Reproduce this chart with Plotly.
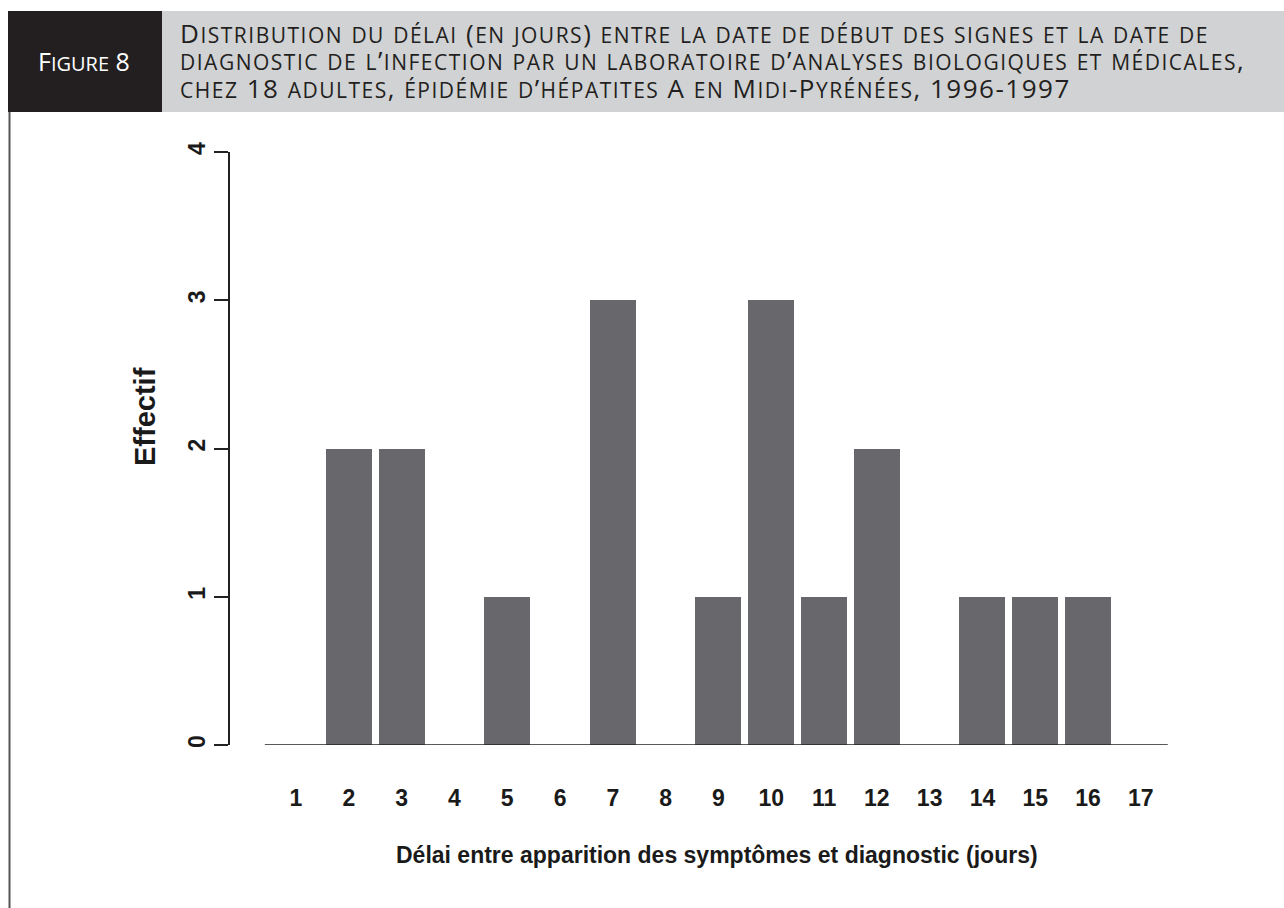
import plotly.graph_objects as go

# Data
days = list(range(1, 18))
counts = [0, 2, 2, 0, 1, 0, 3, 0, 1, 3, 1, 2, 0, 1, 1, 1, 0]
y_ticks = [0, 1, 2, 3, 4]

title_lines = [
    "Distribution du délai (en jours) entre la date de début des signes et la date de",
    "diagnostic de l’infection par un laboratoire d’analyses biologiques et médicales,",
    "chez 18 adultes, épidémie d’hépatites A en Midi-Pyrénées, 1996-1997",
]
fig_label = "Figure 8"
x_title = "Délai entre apparition des symptômes et diagnostic (jours)"
y_title = "Effectif"

W, H = 1284, 908
L, R, T, B = 230, 84, 152, 163
PW, PH = W - L - R, H - T - B

SMALL, BIG = 21, 26
SPACING = 1.5


def px(x):
    return (x - L) / PW


def py(y):
    return (H - B - y) / PH


def small_caps(s, big=BIG, spacing=0):
    """Lowercase letters -> uppercase at base size; others at big size."""
    out, run, run_big = [], "", None
    for ch in s:
        is_big = not ch.islower()
        c = ch.upper()
        if run_big is None or is_big == run_big:
            run += c
            run_big = is_big
        else:
            out.append((run, run_big))
            run, run_big = c, is_big
    if run:
        out.append((run, run_big))
    parts = []
    for t, b in out:
        st = f"letter-spacing:{spacing}px"
        if b:
            st = f"font-size:{big}px;" + st
        parts.append(f'<span style="{st}">{t}</span>')
    return "".join(parts)


axis_family = "Liberation Sans, Arial, sans-serif"
head_family = "Open Sans, Noto Sans, sans-serif"

fig = go.Figure()
fig.add_trace(go.Bar(
    x=days, y=counts, width=0.87,
    marker=dict(color="#68686c", line=dict(width=0)),
    hoverinfo="x+y",
))

shapes = [
    dict(type="rect", xref="paper", yref="paper", x0=px(8), x1=px(162), y0=py(112), y1=py(11),
         fillcolor="#231f20", line=dict(width=0), layer="below"),
    dict(type="rect", xref="paper", yref="paper", x0=px(162), x1=px(1284), y0=py(112), y1=py(11),
         fillcolor="#d1d2d4", line=dict(width=0), layer="below"),
    dict(type="line", xref="paper", yref="paper", x0=px(9.5), x1=px(9.5), y0=py(112), y1=py(908),
         line=dict(color="#555555", width=2)),
    dict(type="line", xref="x", yref="y", x0=min(days) - 0.59, x1=max(days) + 0.51, y0=0, y1=0,
         line=dict(color="#222222", width=1.5)),
]

annotations = [
    dict(text=small_caps(fig_label, big=25), xref="paper", yref="paper", x=px(84), y=py(61),
         xanchor="center", yanchor="middle", showarrow=False,
         font=dict(family=head_family, size=20, color="white")),
    dict(text="<br>".join(small_caps(l, spacing=SPACING) for l in title_lines), xref="paper", yref="paper",
         x=px(178), y=py(60), xanchor="left", yanchor="middle", align="left", showarrow=False,
         font=dict(family=head_family, size=SMALL, color="#231f20")),
    dict(text=y_title, xref="paper", yref="paper", x=px(145), y=py(417), xanchor="center", yanchor="middle",
         textangle=-90, showarrow=False, font=dict(family=axis_family, size=29, color="#1a1a1a", weight="bold")),
    dict(text=x_title, xref="paper", yref="paper", x=px(717), y=py(855), xanchor="center", yanchor="middle",
         showarrow=False, font=dict(family=axis_family, size=23, color="#1a1a1a", weight="bold")),
]

fig.update_layout(
    width=W, height=H,
    margin=dict(l=L, r=R, t=T, b=B, pad=0),
    paper_bgcolor="white", plot_bgcolor="white",
    showlegend=False,
    shapes=shapes,
    annotations=annotations,
    bargap=0,
)
fig.update_xaxes(
    range=[-0.25, 18.12], tickvals=days, ticktext=[str(d) for d in days],
    showline=False, showgrid=False, zeroline=False,
    ticks="outside", ticklen=32, tickcolor="rgba(0,0,0,0)",
    tickfont=dict(family=axis_family, size=23, color="#1a1a1a", weight="bold"),
)
fig.update_yaxes(
    range=[0, 4], tickvals=y_ticks, showgrid=False, zeroline=False,
    showline=True, linecolor="#222222", linewidth=1.5,
    ticks="outside", ticklen=14, tickcolor="#222222", tickwidth=1.5,
    tickangle=-90, tickfont=dict(family=axis_family, size=23, color="#1a1a1a", weight="bold"),
)

fig.write_html("out.html", config={"displayModeBar": False},
               post_script="document.body.style.margin='0';")
